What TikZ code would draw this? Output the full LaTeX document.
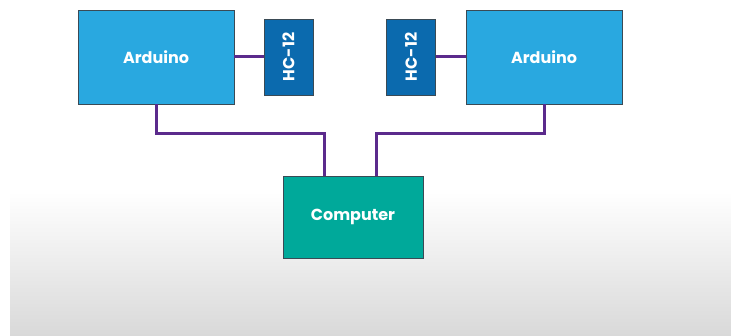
\documentclass[tikz,border=0pt]{standalone}
\usepackage{fontspec}
\setmainfont{Poppins}
\usepackage{tikz}
\usetikzlibrary{positioning,calc}

\definecolor{ardblue}{HTML}{29A8E0}
\definecolor{hcblue}{HTML}{0B6AAE}
\definecolor{compteal}{HTML}{00A99A}
\definecolor{wirepurple}{HTML}{5B2A8C}
\definecolor{boxedge}{HTML}{3A4A55}

\tikzset{
    lbl/.style={text=white, font=\fontsize{16}{18}\selectfont\bfseries},
    board/.style={draw=boxedge, line width=0.9pt, fill=ardblue, minimum width=156pt, minimum height=94pt, lbl},
    radio/.style={draw=boxedge, line width=0.9pt, fill=hcblue, minimum width=49pt, minimum height=76pt},
    pcbox/.style={draw=boxedge, line width=0.9pt, fill=compteal, minimum width=140pt, minimum height=82pt, lbl},
    wire/.style={draw=wirepurple, line width=3pt}
}

\begin{document}
\begin{tikzpicture}[x=1pt, y=-1pt]
    % Background
    \useasboundingbox (0,0) rectangle (731,336);
    \fill[white] (0,0) rectangle (731,336);
    \shade[top color=white, bottom color=black!15] (10,192) rectangle (731,336);

    % Bend points of the computer links
    \coordinate (bendL) at (324,134);
    \coordinate (bendR) at (376,134);

    % Arduino boards
    \node[board] (ardL) at (156,57) {Arduino};
    \node[board] (ardR) at (544,57) {Arduino};

    % HC-12 modules
    \node[radio] (hcL) at (288.5,57) {};
    \node[lbl, rotate=90] (hcLtxt) at (hcL.center) {HC-12};
    \node[radio] (hcR) at (411,57) {};
    \node[lbl, rotate=90] (hcRtxt) at (hcR.center) {HC-12};

    % Computer
    \node[pcbox] (comp) at (353,217) {Computer};

    % Links
    \draw[wire] (ardL.east) -- (hcL.west);
    \draw[wire] (ardR.west) -- (hcR.east);
    \draw[wire] (ardL.south) |- (bendL) -- (bendL |- comp.north);
    \draw[wire] (ardR.south) |- (bendR) -- (bendR |- comp.north);
\end{tikzpicture}
\end{document}
